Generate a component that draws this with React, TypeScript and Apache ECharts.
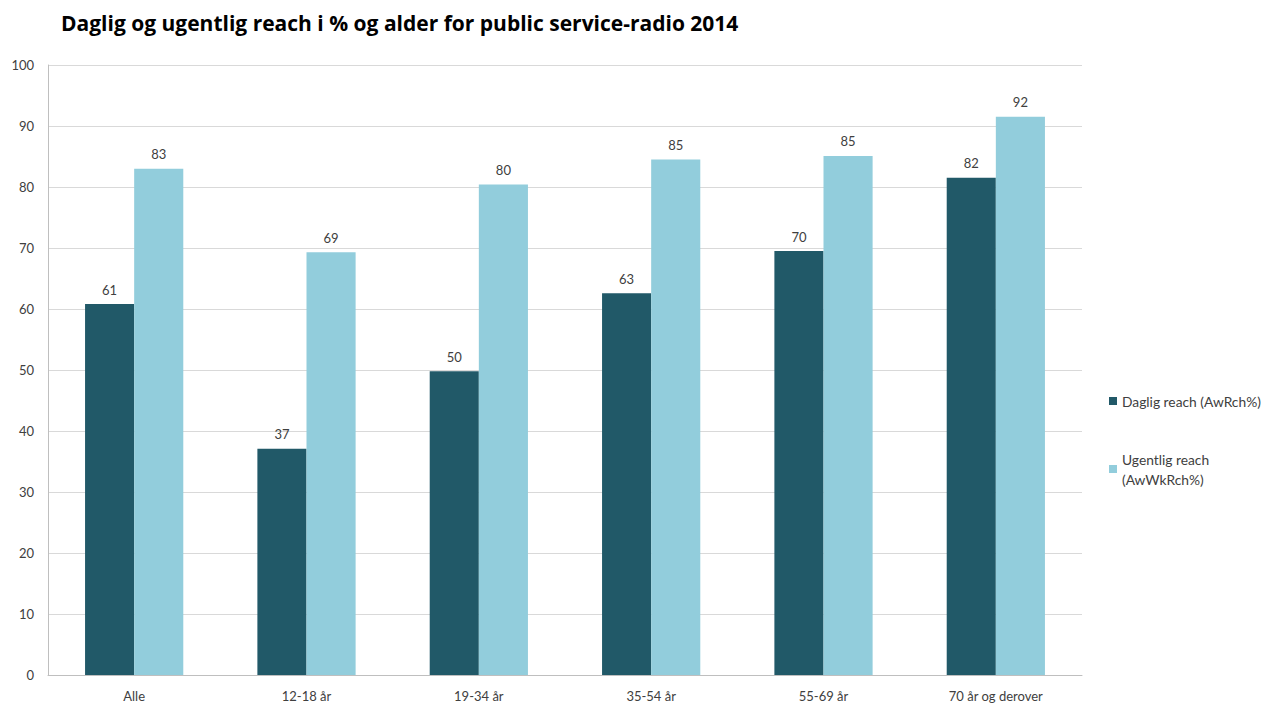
import React, { useEffect, useRef } from "react";
import * as echarts from "echarts";

const categories = ["Alle", "12-18 år", "19-34 år", "35-54 år", "55-69 år", "70 år og derover"];
const dagligReach = [60.8, 37.1, 49.8, 62.6, 69.5, 81.5];
const ugentligReach = [83.0, 69.3, 80.4, 84.5, 85.1, 91.5];
const seriesNames = ["Daglig reach (AwRch%)", "Ugentlig reach\n(AwWkRch%)"];
const titleText = "Daglig og ugentlig reach i % og alder for public service-radio 2014";

const FONT = "Lato, 'Open Sans', sans-serif";

export default function App() {
  const ref = useRef<HTMLDivElement>(null);
  useEffect(() => {
    if (!ref.current) return;
    const chart = echarts.init(ref.current, null, { renderer: "svg" });
    const label = {
      show: true,
      position: "top",
      distance: 8,
      color: "#404040",
      fontSize: 13,
      fontFamily: FONT,
      formatter: (p: any) => String(Math.round(p.value)),
    };
    chart.setOption({
      animation: false,
      backgroundColor: "#ffffff",
      title: {
        text: titleText,
        left: 56,
        top: 7,
        textStyle: { fontFamily: "'Open Sans', sans-serif", fontWeight: "bold", fontSize: 21, color: "#000000" },
      },
      legend: {
        orient: "vertical",
        left: 1104,
        top: 386,
        itemWidth: 8,
        itemHeight: 8,
        itemGap: 38,
        icon: "rect",
        textStyle: { fontFamily: FONT, fontSize: 13.8, color: "#404040", lineHeight: 20 },
        data: seriesNames,
      },
      grid: { left: 48, right: 185, top: 65, bottom: 29, containLabel: false },
      xAxis: {
        type: "category",
        data: categories,
        axisLine: { lineStyle: { color: "#bfbfbf", width: 1 } },
        axisTick: { show: false },
        axisLabel: { fontFamily: FONT, fontSize: 13, color: "#404040", margin: 14 },
      },
      yAxis: {
        type: "value",
        min: 0,
        max: 100,
        interval: 10,
        axisLine: { show: true, lineStyle: { color: "#bfbfbf" } },
        axisTick: { show: false },
        splitLine: { lineStyle: { color: "#d9d9d9", width: 1 } },
        axisLabel: { fontFamily: FONT, fontSize: 13, color: "#404040", margin: 14 },
      },
      series: [
        {
          name: seriesNames[0],
          type: "bar",
          data: dagligReach,
          barGap: "0%",
          barCategoryGap: "43%",
          itemStyle: { color: "#215968" },
          label,
        },
        {
          name: seriesNames[1],
          type: "bar",
          data: ugentligReach,
          barGap: "0%",
          barCategoryGap: "43%",
          itemStyle: { color: "#92cddc" },
          label,
        },
      ],
    });
    return () => chart.dispose();
  }, []);
  return (
    <div
      ref={ref}
      style={{ position: "fixed", left: 0, top: 0, width: 1267, height: 704, background: "#fff" }}
    />
  );
}
